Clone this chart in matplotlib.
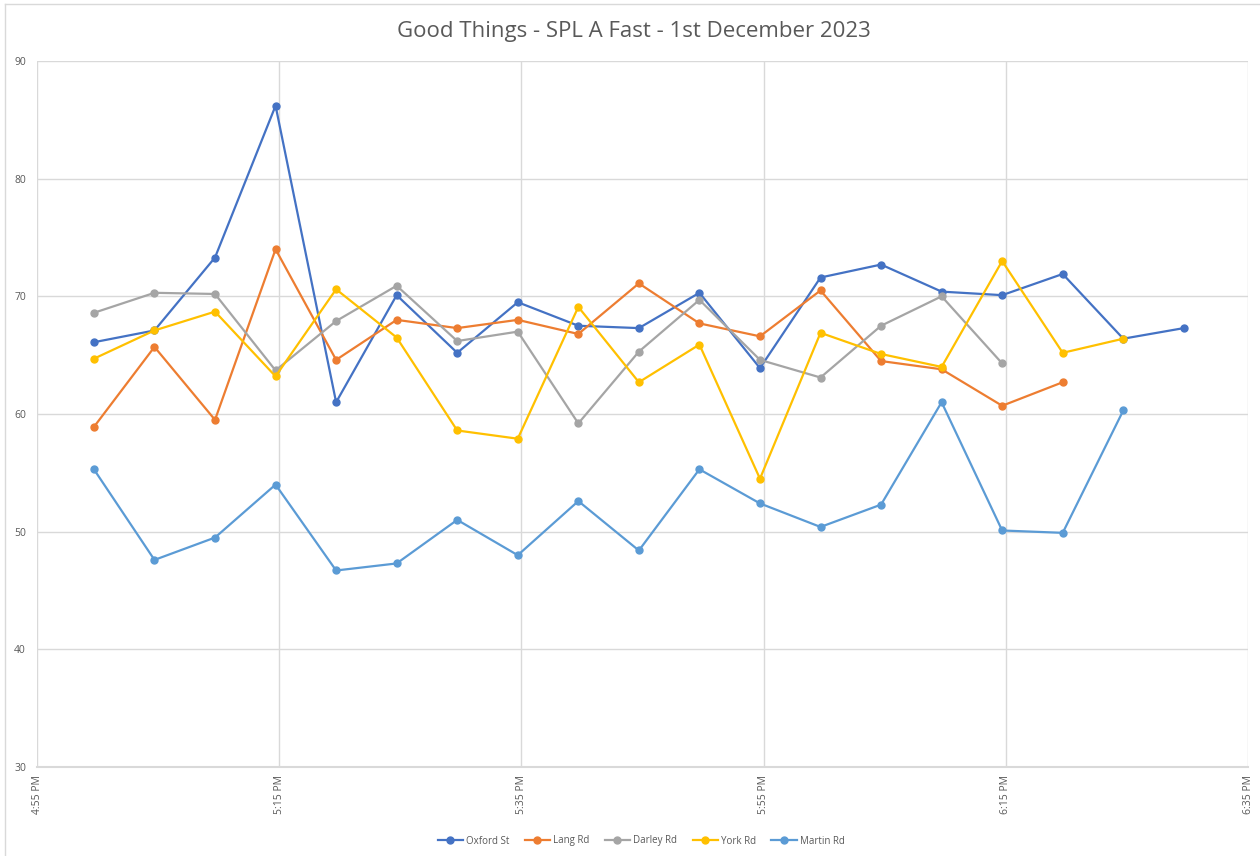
import matplotlib
matplotlib.use("Agg")
import matplotlib.pyplot as plt
import matplotlib.dates as mdates
from matplotlib.lines import Line2D
import numpy as np
import pandas as pd

plt.rcParams["font.family"] = ["Open Sans", "DejaVu Sans"]

# 5-minute readings from 5:00 PM to 6:30 PM
times = pd.date_range("2023-12-01 17:00", "2023-12-01 18:30", freq="5min")

nan = np.nan
oxford = [66.1, 67.1, 73.3, 86.2, 61.0, 70.1, 65.2, 69.5, 67.5, 67.3, 70.3, 63.9,
          71.6, 72.7, 70.4, 70.1, 71.9, 66.4, 67.3]
lang = [58.9, 65.7, 59.5, 74.0, 64.6, 68.0, 67.3, 68.0, 66.8, 71.1, 67.7, 66.6,
        70.5, 64.5, 63.8, 60.7, 62.7, nan, nan]
darley = [68.6, 70.3, 70.2, 63.7, 67.9, 70.9, 66.2, 67.0, 59.2, 65.3, 69.7, 64.6,
          63.1, 67.5, 70.0, 64.3, nan, nan, nan]
york = [64.7, 67.1, 68.7, 63.2, 70.6, 66.5, 58.6, 57.9, 69.1, 62.7, 65.9, 54.5,
        66.9, 65.1, 64.0, 73.0, 65.2, 66.4, nan]
martin = [55.3, 47.6, 49.5, 54.0, 46.7, 47.3, 51.0, 48.0, 52.6, 48.4, 55.3, 52.4,
          50.4, 52.3, 61.0, 50.1, 49.9, 60.3, nan]

series_names = ["Oxford St", "Lang Rd", "Darley Rd", "York Rd", "Martin Rd"]
series_values = [oxford, lang, darley, york, martin]
colors = ["#4472C4", "#ED7D31", "#A5A5A5", "#FFC000", "#5B9BD5"]

text_grey = "#595959"
grid_grey = "#D9D9D9"

fig = plt.figure(figsize=(12.6, 8.56), dpi=100)
ax = fig.add_axes([37 / 1260, 1 - 767 / 856, (1248 - 37) / 1260, (767 - 61) / 856])

for name, vals, col in zip(series_names, series_values, colors):
    ax.plot(times, vals, color=col, lw=1.6, marker="o", ms=5, label=name, zorder=3)

# axis bounds sit a few seconds past the round minute (labels show minutes only)
x0 = pd.Timestamp("2023-12-01 16:55:18")
x1 = pd.Timestamp("2023-12-01 18:35:18")
ax.set_xlim(x0, x1)
ax.set_ylim(30, 90)
ax.set_yticks(np.arange(30, 91, 10))
ax.set_xticks(pd.date_range(x0, x1, freq="20min"))
ax.xaxis.set_major_formatter(mdates.DateFormatter("%-I:%M %p"))

ax.grid(True, color=grid_grey, lw=1)
ax.set_axisbelow(True)
for side in ["left", "right", "top"]:
    ax.spines[side].set_visible(False)
ax.spines["bottom"].set_color(grid_grey)
ax.spines["bottom"].set_linewidth(1.5)
ax.tick_params(axis="both", length=0, colors=text_grey, labelsize=7.5)
ax.tick_params(axis="y", pad=8)
ax.tick_params(axis="x", pad=6)
for lab in ax.get_xticklabels():
    lab.set_rotation(90)
    lab.set_va("top")
    lab.set_ha("center")

fig.text(634 / 1260, 1 - 32 / 856, "Good Things - SPL A Fast - 1st December 2023",
         ha="center", va="center", fontsize=16, color=text_grey)

handles = [Line2D([0], [0], color=c, lw=1.6, marker="o", ms=5) for c in colors]
fig.legend(handles, series_names, loc="center", bbox_to_anchor=(641 / 1260, 1 - 841 / 856),
           ncol=5, frameon=False, fontsize=7, labelcolor=text_grey,
           handlelength=2.6, columnspacing=1.6, handletextpad=0.3)

# chart area border (top and left edges visible)
fig.add_artist(Line2D([5 / 1260, 1], [1 - 4 / 856, 1 - 4 / 856], transform=fig.transFigure,
                      color=grid_grey, lw=1))
fig.add_artist(Line2D([5 / 1260, 5 / 1260], [0, 1 - 4 / 856], transform=fig.transFigure,
                      color=grid_grey, lw=1))

fig.savefig("out.png", dpi=100)
